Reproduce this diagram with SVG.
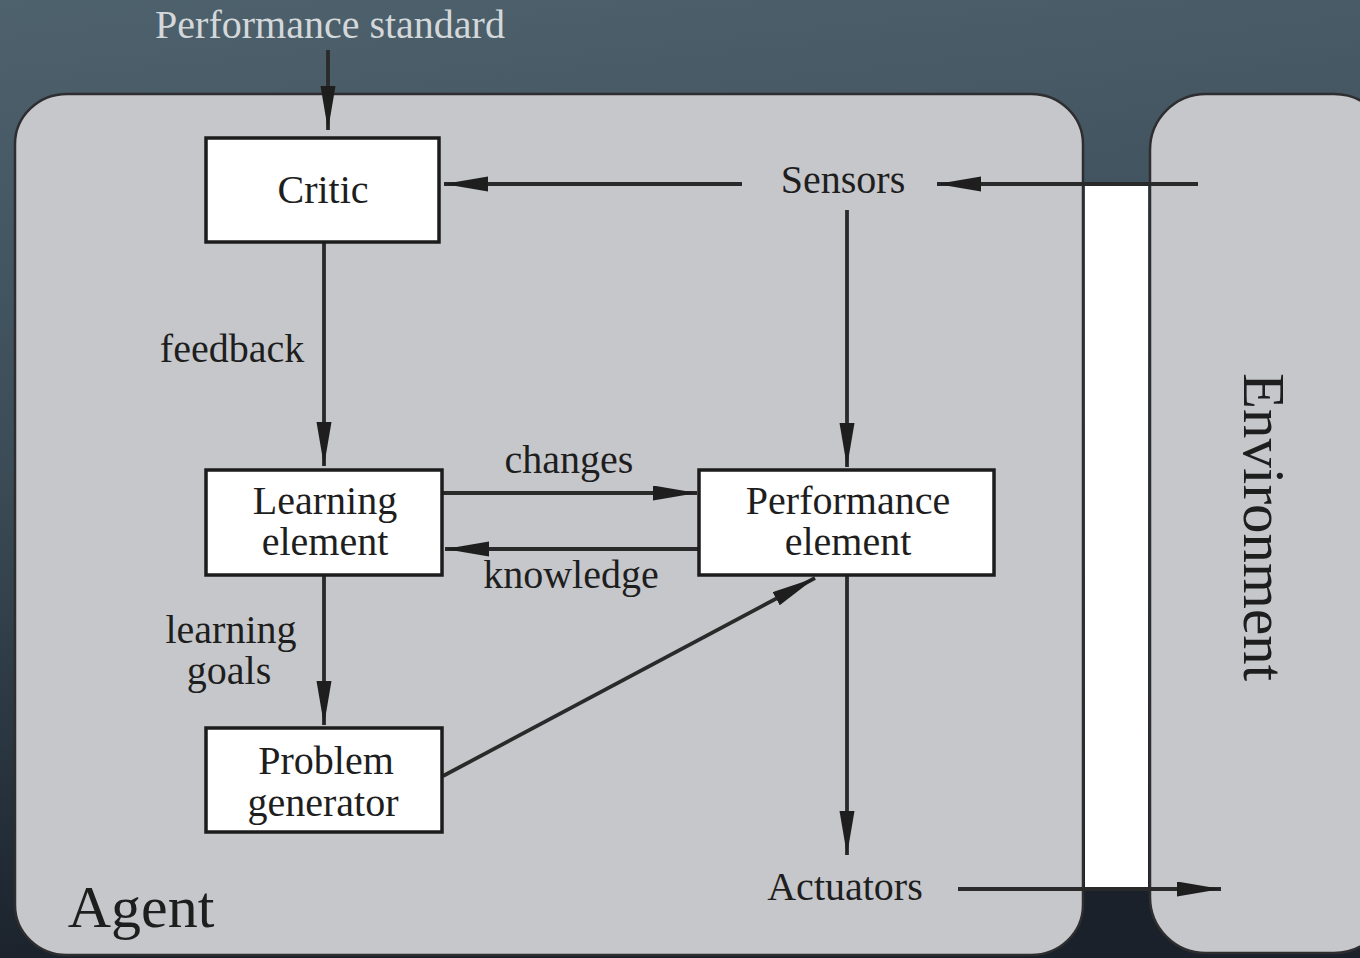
<svg xmlns="http://www.w3.org/2000/svg" width="1360" height="958" viewBox="0 0 1360 958">
<defs>
<linearGradient id="bg" x1="0" y1="0" x2="0.15" y2="1">
<stop offset="0" stop-color="#4e626d"/>
<stop offset="0.5" stop-color="#3a4b56"/>
<stop offset="1" stop-color="#1a212b"/>
</linearGradient>
<marker id="ah" markerUnits="userSpaceOnUse" markerWidth="46" markerHeight="16" refX="44" refY="7.5" orient="auto">
<path d="M0,0 L44,7.5 L0,15 z" fill="#1e1e1e"/>
</marker>
<style>
.frame{fill:#c6c7cb;stroke:#2e2e30;stroke-width:2.5}
.box{fill:#ffffff;stroke:#1c1c1c;stroke-width:3.5}
.t{font-family:"Liberation Serif","Times New Roman",serif;font-size:40px;fill:#1e1e1e;text-anchor:middle}
.arr{stroke:#2a2a2a;stroke-width:3.8;fill:none;marker-end:url(#ah)}
</style>
</defs>
<rect width="1360" height="958" fill="url(#bg)"/>
<g id="agent">
<rect class="frame" x="15" y="94" width="1068" height="861" rx="52" ry="50"/>
<text class="t" x="141" y="927" style="font-size:60px">Agent</text>
</g>
<g id="environment">
<rect class="frame" x="1150" y="94" width="240" height="859" rx="56" ry="56"/>
<text class="t" transform="translate(1244,527) rotate(90)" style="font-size:59px">Environment</text>
</g>
<rect x="1085" y="184" width="63" height="705" fill="#ffffff"/>
<g id="connectors">
<line class="arr" x1="328" y1="50" x2="328" y2="130"/>
<line class="arr" x1="1198" y1="184" x2="937" y2="184"/>
<line class="arr" x1="742" y1="184" x2="444" y2="184"/>
<line class="arr" x1="324" y1="243" x2="324" y2="466"/>
<line class="arr" x1="847" y1="210" x2="847" y2="467"/>
<line class="arr" x1="443" y1="493" x2="697" y2="493"/>
<line class="arr" x1="698" y1="549" x2="445" y2="549"/>
<line class="arr" x1="324" y1="575" x2="324" y2="725"/>
<line class="arr" x1="443" y1="776" x2="815" y2="578"/>
<line class="arr" x1="847" y1="575" x2="847" y2="855"/>
<line class="arr" x1="958" y1="889" x2="1221" y2="889"/>
</g>
<g id="labels">
<text class="t" x="330" y="38" style="fill:#d4d8da">Performance standard</text>
<text class="t" x="843" y="193">Sensors</text>
<text class="t" x="232" y="362">feedback</text>
<text class="t" x="569" y="473">changes</text>
<text class="t" x="571" y="588">knowledge</text>
<text class="t" x="231" y="643">learning</text>
<text class="t" x="229" y="684">goals</text>
<text class="t" x="845" y="900">Actuators</text>
</g>
<g id="critic">
<rect class="box" x="206" y="138" width="233" height="104"/>
<text class="t" x="323" y="203">Critic</text>
</g>
<g id="learning-element">
<rect class="box" x="206" y="470" width="236" height="105"/>
<text class="t" x="325" y="514">Learning</text>
<text class="t" x="325" y="555">element</text>
</g>
<g id="performance-element">
<rect class="box" x="699" y="470" width="295" height="105"/>
<text class="t" x="848" y="514">Performance</text>
<text class="t" x="848" y="555">element</text>
</g>
<g id="problem-generator">
<rect class="box" x="206" y="728" width="236" height="104"/>
<text class="t" x="326" y="774">Problem</text>
<text class="t" x="323" y="816">generator</text>
</g>
</svg>
